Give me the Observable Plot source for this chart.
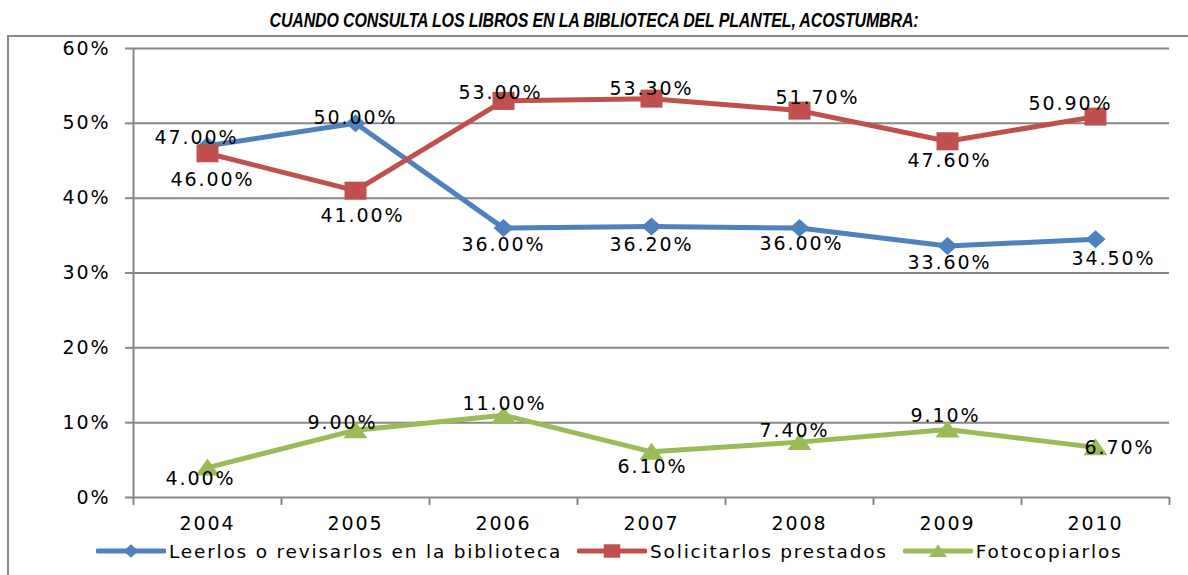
<!DOCTYPE html>
<html><head><meta charset="utf-8">
<script src="https://cdn.jsdelivr.net/npm/d3@7"></script>
<script src="https://cdn.jsdelivr.net/npm/@observablehq/plot@0.6"></script>
<style>
html,body{margin:0;padding:0;background:#fff;}
body{width:1188px;height:575px;overflow:hidden;position:relative;font-family:"DejaVu Sans",sans-serif;}
#frame{position:absolute;left:7px;top:35px;width:1300px;height:700px;border-top:2px solid #878787;border-left:2px solid #878787;box-sizing:border-box;}
#title{position:absolute;left:0;top:9px;width:1188px;text-align:center;font-family:"Liberation Sans Narrow","Arial Narrow","Liberation Sans",sans-serif;font-weight:bold;font-style:italic;font-size:20px;letter-spacing:-0.2px;line-height:22px;color:#000;white-space:nowrap;transform:scaleX(0.8);transform-origin:594px 0;}
#chart{position:absolute;left:0;top:0;}
#legend{position:absolute;left:96px;top:539px;height:24px;display:flex;align-items:center;font-size:18.5px;letter-spacing:1.8px;color:#000;white-space:nowrap;}
.item{display:flex;align-items:center;margin-right:15px;}
.item svg{margin-right:3px;}
</style></head>
<body>
<div id="frame"></div>
<div id="title"></div>
<div id="chart"></div>
<div id="legend"></div>
<script>
const titleText = "CUANDO CONSULTA LOS LIBROS EN LA BIBLIOTECA DEL PLANTEL, ACOSTUMBRA:";
const years = ["2004","2005","2006","2007","2008","2009","2010"];
const seriesNames = ["Leerlos o revisarlos en la biblioteca","Solicitarlos prestados","Fotocopiarlos"];
const leerlos = [47.0, 50.0, 36.0, 36.2, 36.0, 33.6, 34.5];
const solicitarlos = [46.0, 41.0, 53.0, 53.3, 51.7, 47.6, 50.9];
const fotocopiarlos = [4.0, 9.0, 11.0, 6.1, 7.4, 9.1, 6.7];
const yTicks = [0, 10, 20, 30, 40, 50, 60];

// layout config (label nudges in px, per series / per year)
const labelNudge = [
  [[-11,-8],[0,-5],[0,17],[0,18],[2,16],[2,17],[18,20]],
  [[5,27],[7,25],[-3,-8],[0,-10],[18,-13],[2,20],[-25,-13]],
  [[-7,11],[-13,-7],[1,-11],[1,15],[-5,-11],[-2,-13],[24,1]]
];
const colors = ["#4F81BD","#C0504D","#9BBB59"];
const gridColor = "#878787";

// marker shapes (Excel-like, slightly stretched)
const symDiamond = {draw(c){c.moveTo(0,-9);c.lineTo(10,0);c.lineTo(0,9);c.lineTo(-10,0);c.closePath();}};
const symSquare = {draw(c){c.moveTo(-11,-9);c.lineTo(11,-9);c.lineTo(11,9);c.lineTo(-11,9);c.closePath();}};
const symTriangle = {draw(c){c.moveTo(0,-9);c.lineTo(12,8);c.lineTo(-12,8);c.closePath();}};
const symbols = [symDiamond, symSquare, symTriangle];

document.getElementById("title").textContent = titleText;

const seriesValues = [leerlos, solicitarlos, fotocopiarlos];
const rows = seriesValues.flatMap((vals, s) => vals.map((v, i) => ({
  series: seriesNames[s], s, i, xpos: i + 0.5, value: v, year: years[i]
})));

const marks = [
  Plot.ruleY(yTicks.filter(d => d > 0), {stroke: gridColor, strokeWidth: 2}),
  Plot.axisY(yTicks, {tickSize: 8, tickPadding: 15, tickFormat: d => d + "%", fontSize: 19, stroke: gridColor, label: null}),
  Plot.axisX(d3.range(0, years.length + 1), {tickSize: 8, tickFormat: () => "", stroke: gridColor, label: null}),
  Plot.axisX(years.map((y, i) => i + 0.5), {tickSize: 0, tickPadding: 19, tickFormat: d => years[Math.round(d - 0.5)], fontSize: 19, label: null}),
  Plot.ruleX([0], {stroke: gridColor, strokeWidth: 2}),
  Plot.ruleY([0], {stroke: gridColor, strokeWidth: 2})
];
seriesValues.forEach((vals, s) => {
  const data = rows.filter(r => r.s === s);
  marks.push(Plot.line(data, {x: "xpos", y: "value", stroke: colors[s], strokeWidth: 5, strokeLinejoin: "round", strokeLinecap: "round"}));
  marks.push(Plot.dot(data, {x: "xpos", y: "value", symbol: symbols[s], r: 9, fill: colors[s], stroke: "none"}));
});
rows.forEach(r => {
  const [dx, dy] = labelNudge[r.s][r.i];
  marks.push(Plot.text([r], {x: "xpos", y: "value", text: d => d.value.toFixed(2) + "%", dx, dy, fontSize: 19, fill: "#000"}));
});

const chart = Plot.plot({
  width: 1188,
  height: 540,
  marginLeft: 133,
  marginRight: 19,
  marginTop: 48,
  marginBottom: 43,
  x: {type: "linear", domain: [0, years.length], axis: null},
  y: {domain: [0, 60], axis: null},
  style: {fontFamily: "'DejaVu Sans', sans-serif", fontSize: "19px", color: "#000", background: "transparent", letterSpacing: "1.9px"},
  marks
});
d3.select(chart).selectAll("g[aria-label='y-axis tick'] path, g[aria-label='x-axis tick'] path").attr("stroke", gridColor).attr("stroke-width", 2).attr("stroke-opacity", 1);
d3.select(chart).selectAll("g[aria-label='y-axis tick label'], g[aria-label='x-axis tick label']").attr("fill", "#000");
document.getElementById("chart").appendChild(chart);

// legend
const legend = d3.select("#legend");
seriesNames.forEach((name, s) => {
  const item = legend.append("div").attr("class", "item");
  const sv = item.append("svg").attr("width", 70).attr("height", 22);
  sv.append("line").attr("x1", 2).attr("x2", 68).attr("y1", 11).attr("y2", 11)
    .attr("stroke", colors[s]).attr("stroke-width", 5).attr("stroke-linecap", "round");
  const p = d3.path(); symbols[s].draw(p);
  sv.append("path").attr("d", p.toString()).attr("transform", "translate(35,11) scale(0.75)").attr("fill", colors[s]);
  item.append("span").text(name);
});
</script>
</body></html>
